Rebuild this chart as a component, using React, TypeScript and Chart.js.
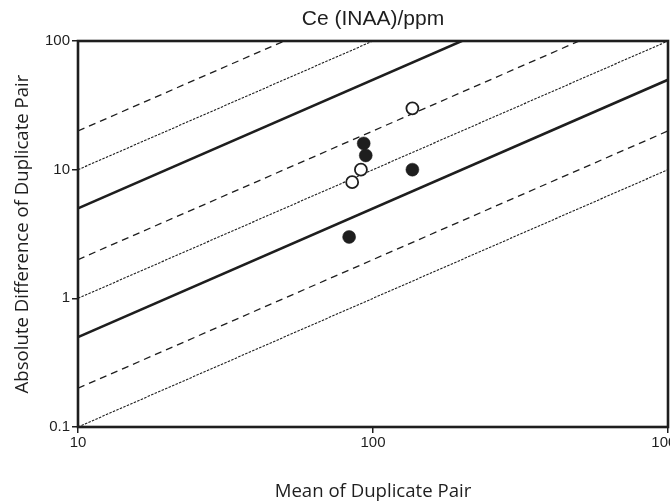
import React, { useEffect, useRef } from 'react';
import { Chart, registerables } from 'chart.js';

Chart.register(...registerables);

// ---- data ----
const chartTitle = 'Ce (INAA)/ppm';
const xAxisTitle = 'Mean of Duplicate Pair';
const yAxisTitle = 'Absolute Difference of Duplicate Pair';

const xTickValues = [10, 100, 1000];
const yTickValues = [0.1, 1, 10, 100];
const xRange = [10, 1000];
const yRange = [0.1, 100];

// open circles
const openX = [85, 91, 136];
const openY = [8, 10, 30];
// filled circles
const filledX = [93, 94.5, 83, 136];
const filledY = [16, 12.9, 3, 10];

// reference lines: |d| = ratio * mean
const solidRatios = [0.5, 0.05];
const dashedRatios = [2, 0.2, 0.02];
const dottedRatios = [1, 0.1, 0.01];

const INK = '#1e1e1e';

function lineData(r: number) {
  return xRange.map((x) => ({ x, y: r * x }));
}

export default function App() {
  const ref = useRef<HTMLCanvasElement | null>(null);

  useEffect(() => {
    if (!ref.current) return;

    const lineDatasets: any[] = [];
    solidRatios.forEach((r) =>
      lineDatasets.push({
        data: lineData(r),
        showLine: true,
        borderColor: INK,
        borderWidth: 2.6,
        pointRadius: 0,
        order: 5,
      })
    );
    dashedRatios.forEach((r) =>
      lineDatasets.push({
        data: lineData(r),
        showLine: true,
        borderColor: INK,
        borderWidth: 1.3,
        borderDash: [7, 5],
        pointRadius: 0,
        order: 5,
      })
    );
    dottedRatios.forEach((r) =>
      lineDatasets.push({
        data: lineData(r),
        showLine: true,
        borderColor: INK,
        borderWidth: 1.1,
        borderDash: [2.5, 1.3],
        pointRadius: 0,
        order: 5,
      })
    );

    const frame = {
      id: 'frame',
      afterDatasetsDraw(chart: any) {
        const { ctx, chartArea: a } = chart;
        ctx.save();
        ctx.strokeStyle = INK;
        ctx.lineWidth = 2.6;
        ctx.strokeRect(a.left, a.top, a.right - a.left, a.bottom - a.top);
        ctx.restore();
      },
      afterDraw(chart: any) {
        const { ctx, chartArea: a } = chart;
        ctx.save();
        ctx.fillStyle = INK;
        ctx.font = '21px "Liberation Sans", Arial, sans-serif';
        ctx.textAlign = 'center';
        ctx.textBaseline = 'middle';
        ctx.fillText(chartTitle, (a.left + a.right) / 2, 19);
        ctx.restore();
      },
    };

    const tickFont = { family: '"Liberation Sans", Arial, sans-serif', size: 15 };
    const titleFont = { family: '"Open Sans", sans-serif', size: 18.6 };

    const chart = new Chart(ref.current, {
      type: 'scatter',
      data: {
        datasets: [
          ...lineDatasets,
          {
            data: openX.map((x, i) => ({ x, y: openY[i] })),
            pointRadius: 6,
            pointBackgroundColor: '#ffffff',
            pointBorderColor: INK,
            pointBorderWidth: 1.8,
            order: 1,
          },
          {
            data: filledX.map((x, i) => ({ x, y: filledY[i] })),
            pointRadius: 6.5,
            pointBackgroundColor: INK,
            pointBorderColor: INK,
            pointBorderWidth: 0.5,
            order: 1,
          },
        ],
      },
      options: {
        animation: false,
        responsive: false,
        layout: { padding: { top: 41, right: 32, left: 0, bottom: 0 } },
        plugins: {
          legend: { display: false },
          tooltip: { enabled: false },
          title: { display: false },
        },
        scales: {
          x: {
            type: 'logarithmic',
            min: xRange[0],
            max: xRange[1],
            afterBuildTicks: (s: any) => {
              s.ticks = xTickValues.map((v) => ({ value: v }));
            },
            afterFit: (s: any) => {
              s.height = 77;
            },
            ticks: {
              autoSkip: false,
              maxRotation: 0,
              color: INK,
              font: tickFont,
              padding: 1,
              callback: (v: any) => String(v),
            },
            grid: {
              display: true,
              drawOnChartArea: false,
              drawTicks: true,
              tickLength: 6,
              color: INK,
              lineWidth: 1.5,
            },
            border: { display: false },
            title: {
              display: true,
              text: xAxisTitle,
              color: INK,
              font: titleFont,
              padding: { top: 0, bottom: 1.5 },
            },
          },
          y: {
            type: 'logarithmic',
            min: yRange[0],
            max: yRange[1],
            afterBuildTicks: (s: any) => {
              s.ticks = yTickValues.map((v) => ({ value: v }));
            },
            afterFit: (s: any) => {
              s.width = 78;
            },
            ticks: {
              autoSkip: false,
              color: INK,
              font: tickFont,
              padding: 2,
              callback: (v: any) => String(v),
            },
            grid: {
              display: true,
              drawOnChartArea: false,
              drawTicks: true,
              tickLength: 6,
              color: INK,
              lineWidth: 1.5,
            },
            border: { display: false },
            title: {
              display: true,
              text: yAxisTitle,
              color: INK,
              font: titleFont,
              padding: { top: 12, bottom: 0 },
            },
          },
        },
      },
      plugins: [frame],
    } as any);

    return () => chart.destroy();
  }, []);

  return (
    <div
      style={{
        position: 'absolute',
        left: 0,
        top: 0,
        width: 670,
        height: 504,
        overflow: 'hidden',
        background: '#fff',
      }}
    >
      <canvas ref={ref} width={700} height={504} style={{ display: 'block', width: 700, height: 504 }} />
    </div>
  );
}
